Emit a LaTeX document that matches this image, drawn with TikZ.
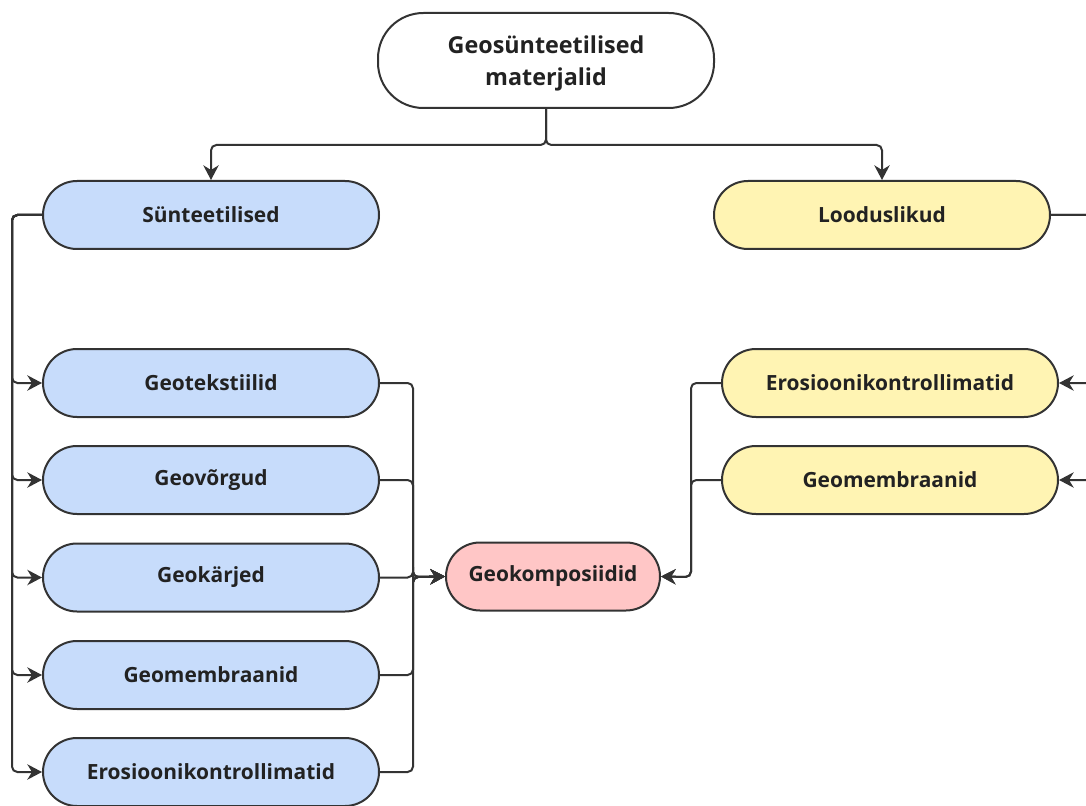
\documentclass[tikz,border=0pt]{standalone}
\usepackage{fontspec}
\setmainfont{Open Sans}
\usetikzlibrary{arrows.meta}
\definecolor{blueF}{HTML}{C7DCFB}
\definecolor{yellowF}{HTML}{FFF4B3}
\definecolor{pinkF}{HTML}{FFC6C6}
\definecolor{lineC}{HTML}{333333}
\definecolor{txtC}{HTML}{222222}
\tikzset{
  box/.style={draw=lineC, line width=1.5pt, rounded corners=25.5pt, minimum height=51pt,
    minimum width=252pt, inner sep=0pt, align=center, text=txtC,
    font=\fontsize{15.7}{18}\selectfont\bfseries},
  bluebox/.style={box, fill=blueF},
  yellowbox/.style={box, fill=yellowF},
  pinkbox/.style={box, fill=pinkF, minimum width=160.5pt},
  topbox/.style={box, fill=white, minimum height=71.25pt, rounded corners=34pt,
    font=\fontsize{17.5}{24}\selectfont\bfseries},
  conn/.style={draw=lineC, line width=1.5pt, rounded corners=4pt},
  arr/.style={conn, -{Stealth[length=11pt, width=11.5pt, inset=3.5pt]}}
}
\begin{document}
\begin{tikzpicture}[x=0.75pt,y=-0.75pt]
\useasboundingbox (0,0) rectangle (1086,806);
\clip (0,0) rectangle (1086,806);
\node[topbox, text depth=-3pt] (top) at (546,60.5) {Geosünteetilised\\materjalid};
\node[bluebox] (syn) at (211,215) {Sünteetilised};
\node[yellowbox] (lood) at (882,215) {Looduslikud};
\node[bluebox] (g1) at (211,383) {Geotekstiilid};
\node[bluebox] (g2) at (211,480) {Geovõrgud};
\node[bluebox] (g3) at (211,577.5) {Geokärjed};
\node[bluebox] (g4) at (211,675) {Geomembraanid};
\node[bluebox] (g5) at (211,772) {Erosioonikontrollimatid};
\node[pinkbox] (gk) at (553,576.5) {Geokomposiidid};
\node[yellowbox] (e1) at (890,383) {Erosioonikontrollimatid};
\node[yellowbox] (e2) at (890,480) {Geomembraanid};

\coordinate (tb) at (546,145);
\coordinate (lbus) at (12,215);
\coordinate (rbus) at (1100,215);
\coordinate (lmx) at (413,577);
\coordinate (rmx) at (691,577);

\draw[arr] (top.south) -- (tb) -| (syn.north);
\draw[arr] (top.south) -- (tb) -| (lood.north);

\foreach \n in {g1,g2,g3,g4,g5}{
  \draw[arr] (syn.west) -- (lbus) |- (\n.west);
  \draw[arr] (\n.east) -| (lmx) -- (gk.west);
}
\foreach \n in {e1,e2}{
  \draw[arr] (lood.east) -- (rbus) |- (\n.east);
  \draw[arr] (\n.west) -| (rmx) -- (gk.east);
}
\end{tikzpicture}
\end{document}
